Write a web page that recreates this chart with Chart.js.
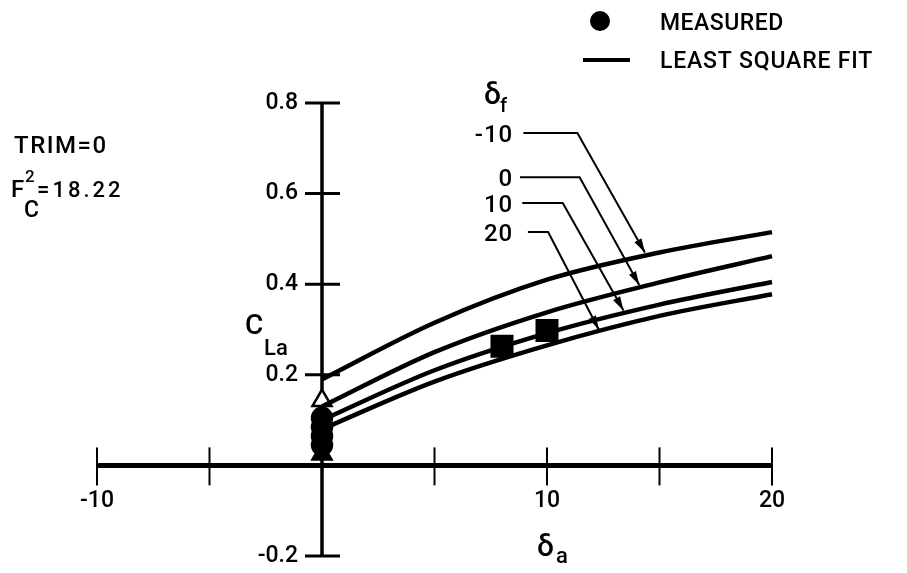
<!DOCTYPE html>
<html>
<head>
<meta charset="utf-8">
<script src="https://cdn.jsdelivr.net/npm/chart.js@4.4.1/dist/chart.umd.min.js"></script>
<style>
  body { margin: 0; background: #fff; }
</style>
</head>
<body>
<canvas id="chart" width="907" height="573"></canvas>
<script>
// least square fits, one per flap setting
const deltaA = [0, 5, 10, 15, 20];
const fitFlapM10 = [0.19, 0.315, 0.41, 0.47, 0.515];
const fitFlap0 = [0.13, 0.25, 0.338, 0.404, 0.462];
const fitFlap10 = [0.1, 0.21, 0.292, 0.355, 0.405];
const fitFlap20 = [0.08, 0.185, 0.265, 0.33, 0.378];

// measured points
const circleX = [0, 0, 0, 0];
const circleY = [0.105, 0.085, 0.065, 0.045];
const squareX = [8, 10];
const squareY = [0.263, 0.298];
const openTriX = [0];
const openTriY = [0.143];
const solidTriX = [0];
const solidTriY = [0.025];

// axes
const xTicks = [-10, -5, 5, 10, 15, 20];
const xTickLabels = ["-10", "", "", "10", "", "20"];
const yTicks = [0.8, 0.6, 0.4, 0.2, -0.2];
const yTickLabels = ["0.8", "0.6", "0.4", "0.2", "-0.2"];

// flap labels with leader arrows: label end, elbow, arrow tip (data units)
const flapLabels = ["-10", "0", "10", "20"];
const flapLabelY = [0.734, 0.636, 0.579, 0.515];
const leaderStartX = [8.95, 8.8, 8.9, 9.15];
const leaderElbowX = [11.35, 11.45, 10.7, 10.05];
const leaderTipX = [14.35, 14.1, 13.4, 12.3];
const leaderTipY = [0.47, 0.398, 0.342, 0.3];

const FONT = 'Roboto, "DejaVu Sans", sans-serif';

let pts = (xs, ys) => xs.map((v, i) => ({ x: v, y: ys[i] }));

let fitSet = (ys) => ({
  data: pts(deltaA, ys),
  showLine: true,
  borderColor: "#000",
  borderWidth: 4.5,
  pointRadius: 0,
  cubicInterpolationMode: "monotone",
  clip: false,
});

let markSet = (xs, ys, style, r, fill) => ({
  data: pts(xs, ys),
  showLine: false,
  pointStyle: style,
  pointRadius: r,
  backgroundColor: fill,
  borderColor: "#000",
  borderWidth: 2.5,
  clip: false,
});

let seg = (ctx, x1, y1, x2, y2) => {
  ctx.beginPath();
  ctx.moveTo(x1, y1);
  ctx.lineTo(x2, y2);
  ctx.stroke();
};

let txt = (ctx, s, x, y, size, align, spacing) => {
  ctx.font = "500 " + size + "px " + FONT;
  ctx.textAlign = align || "left";
  ctx.letterSpacing = (spacing || 0) + "px";
  ctx.fillText(s, x, y);
};

const decor = {
  id: "decor",
  beforeDatasetsDraw(chart) {
    const { ctx } = chart;
    const sx = chart.scales.x;
    const sy = chart.scales.y;
    const x0 = sx.getPixelForValue(0);
    const y0 = sy.getPixelForValue(0);
    ctx.save();
    ctx.strokeStyle = "#000";
    ctx.fillStyle = "#000";
    // x axis and its crossing ticks
    ctx.lineWidth = 5;
    seg(ctx, sx.getPixelForValue(-10), y0, sx.getPixelForValue(20), y0);
    ctx.lineWidth = 2;
    ctx.textBaseline = "middle";
    xTicks.forEach((t, i) => {
      const px = sx.getPixelForValue(t);
      seg(ctx, px, y0 - 18, px, y0 + 20);
      if (xTickLabels[i]) txt(ctx, xTickLabels[i], px, y0 + 36, 23, "center");
    });
    // y axis
    ctx.lineWidth = 3.5;
    seg(ctx, x0, sy.getPixelForValue(0.8), x0, sy.getPixelForValue(-0.2));
    ctx.lineWidth = 3;
    yTicks.forEach((t, i) => {
      const py = sy.getPixelForValue(t);
      seg(ctx, x0 - 17, py, x0 + 18, py);
      txt(ctx, yTickLabels[i], x0 - 24, py, 23, "right");
    });
    ctx.restore();
  },
  afterDraw(chart) {
    const { ctx } = chart;
    const sx = chart.scales.x;
    const sy = chart.scales.y;
    ctx.save();
    ctx.fillStyle = "#000";
    ctx.strokeStyle = "#000";
    ctx.textBaseline = "alphabetic";

    // legend
    ctx.beginPath();
    ctx.arc(600, 21, 10, 0, Math.PI * 2);
    ctx.fill();
    ctx.lineWidth = 4;
    seg(ctx, 583, 60, 630, 60);
    txt(ctx, "MEASURED", 660, 30, 23, "left", 0.5);
    txt(ctx, "LEAST SQUARE FIT", 660, 68, 23, "left", 0.8);

    // run conditions
    txt(ctx, "TRIM=0", 14, 153, 24, "left", 1.5);
    txt(ctx, "F", 11, 197, 24);
    txt(ctx, "2", 25, 182, 17);
    txt(ctx, "C", 24, 217, 23);
    txt(ctx, "=18.22", 37, 197, 22, "left", 3);

    // axis titles
    txt(ctx, "C", 245, 334, 28);
    txt(ctx, "La", 264, 355, 22);
    txt(ctx, "δ", 537, 556, 30);
    txt(ctx, "a", 556, 563, 22);
    txt(ctx, "δ", 484, 104, 30);
    txt(ctx, "f", 500, 112, 20);

    // flap labels and leader arrows
    ctx.lineWidth = 2;
    flapLabels.forEach((lab, i) => {
      const ly = sy.getPixelForValue(flapLabelY[i]);
      txt(ctx, lab, sx.getPixelForValue(8.5), ly + 9, 24, "right", 1);
      const ax = sx.getPixelForValue(leaderStartX[i]);
      const bx = sx.getPixelForValue(leaderElbowX[i]);
      const tx = sx.getPixelForValue(leaderTipX[i]);
      const ty = sy.getPixelForValue(leaderTipY[i]);
      ctx.beginPath();
      ctx.moveTo(ax, ly);
      ctx.lineTo(bx, ly);
      ctx.lineTo(tx, ty);
      ctx.stroke();
      const ang = Math.atan2(ty - ly, tx - bx);
      const len = 14, half = 4;
      ctx.beginPath();
      ctx.moveTo(tx, ty);
      ctx.lineTo(tx - len * Math.cos(ang) + half * Math.sin(ang), ty - len * Math.sin(ang) - half * Math.cos(ang));
      ctx.lineTo(tx - len * Math.cos(ang) - half * Math.sin(ang), ty - len * Math.sin(ang) + half * Math.cos(ang));
      ctx.closePath();
      ctx.fill();
    });
    ctx.restore();
  },
};

const ctx = document.getElementById("chart");
const myChart = new Chart(ctx, {
  type: "scatter",
  data: {
    datasets: [
      fitSet(fitFlapM10),
      fitSet(fitFlap0),
      fitSet(fitFlap10),
      fitSet(fitFlap20),
      markSet(openTriX, openTriY, "triangle", 11, "#fff"),
      markSet(circleX, circleY, "circle", 10, "#000"),
      markSet(squareX, squareY, "rect", 14.5, "#000"),
      markSet(solidTriX, solidTriY, "triangle", 11, "#000"),
    ],
  },
  options: {
    responsive: false,
    animation: false,
    layout: {
      padding: { left: 97, right: 135, top: 103, bottom: 17 },
    },
    scales: {
      x: { type: "linear", min: -10, max: 20, display: false },
      y: { type: "linear", min: -0.2, max: 0.8, display: false },
    },
    plugins: {
      legend: { display: false },
      tooltip: { enabled: false },
    },
  },
  plugins: [decor],
});
</script>
</body>
</html>
